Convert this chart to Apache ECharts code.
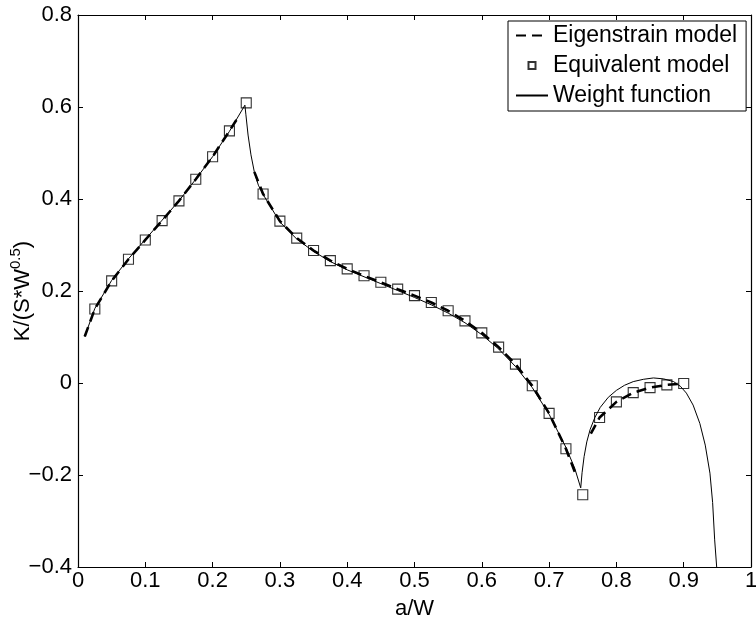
<!DOCTYPE html>
<html>
<head>
<meta charset="utf-8">
<script src="https://cdn.jsdelivr.net/npm/echarts@6/dist/echarts.min.js"></script>
<style>
  html, body { margin: 0; padding: 0; background: #fff; }
  #chart { width: 756px; height: 622px; }
</style>
</head>
<body>
<div id="chart"></div>
<script>
// Normalised crack length a/W
const xTicks = [0, 0.1, 0.2, 0.3, 0.4, 0.5, 0.6, 0.7, 0.8, 0.9, 1];
const yTicks = [-0.4, -0.2, 0, 0.2, 0.4, 0.6, 0.8];

// Equivalent model (square markers)
const equivX = [0.025, 0.05, 0.075, 0.1, 0.125, 0.15, 0.175, 0.2, 0.225, 0.25,
  0.275, 0.3, 0.325, 0.35, 0.375, 0.4, 0.425, 0.45, 0.475, 0.5,
  0.525, 0.55, 0.575, 0.6, 0.625, 0.65, 0.675, 0.7, 0.725, 0.75,
  0.775, 0.8, 0.825, 0.85, 0.875, 0.9];
const equivY = [0.161, 0.222, 0.269, 0.311, 0.353, 0.396, 0.443, 0.492, 0.548, 0.609,
  0.411, 0.352, 0.315, 0.288, 0.266, 0.248, 0.233, 0.219, 0.204, 0.190,
  0.175, 0.157, 0.135, 0.109, 0.078, 0.041, -0.006, -0.066, -0.143, -0.243,
  -0.075, -0.041, -0.021, -0.010, -0.004, -0.001];

// Eigenstrain model, three branches (dashed)
const eigenX1 = [0.010, 0.025, 0.05, 0.075, 0.1, 0.125, 0.15, 0.175, 0.2, 0.225, 0.238];
const eigenY1 = [0.101, 0.161, 0.222, 0.269, 0.311, 0.353, 0.396, 0.443, 0.492, 0.548, 0.578];
const eigenX2 = [0.262, 0.275, 0.3, 0.325, 0.35, 0.375, 0.4, 0.425, 0.45, 0.475, 0.5,
  0.525, 0.55, 0.575, 0.6, 0.625, 0.65, 0.675, 0.7, 0.725, 0.74];
const eigenY2 = [0.459, 0.411, 0.352, 0.315, 0.288, 0.266, 0.248, 0.233, 0.219, 0.204, 0.190,
  0.175, 0.157, 0.135, 0.109, 0.078, 0.041, -0.006, -0.066, -0.143, -0.200];
const eigenX3 = [0.762, 0.775, 0.8, 0.825, 0.85, 0.875, 0.9];
const eigenY3 = [-0.110, -0.075, -0.041, -0.021, -0.010, -0.004, -0.001];

// Weight function solution (thin solid)
const weightX = [0.010, 0.025, 0.05, 0.075, 0.1, 0.125, 0.15, 0.175, 0.2, 0.225, 0.248,
  0.2495, 0.2527, 0.257, 0.262, 0.268, 0.275, 0.3, 0.325, 0.35, 0.375, 0.4, 0.425,
  0.45, 0.475, 0.5, 0.525, 0.55, 0.575, 0.6, 0.625, 0.65, 0.675, 0.7, 0.725, 0.738,
  0.747, 0.749, 0.752, 0.756, 0.761, 0.768, 0.776, 0.788, 0.8, 0.812, 0.825, 0.84,
  0.855, 0.87, 0.885, 0.895, 0.904, 0.914, 0.924, 0.932, 0.939, 0.943, 0.946, 0.949];
const weightY = [0.101, 0.162, 0.223, 0.270, 0.312, 0.354, 0.396, 0.443, 0.492, 0.547, 0.604,
  0.583, 0.539, 0.496, 0.459, 0.430, 0.410, 0.350, 0.313, 0.286, 0.264, 0.246, 0.231,
  0.216, 0.201, 0.186, 0.170, 0.152, 0.131, 0.105, 0.074, 0.036, -0.010, -0.068, -0.140, -0.185,
  -0.228, -0.195, -0.160, -0.128, -0.101, -0.075, -0.053, -0.031, -0.016, -0.005, 0.003, 0.008,
  0.011, 0.009, 0.003, -0.007, -0.022, -0.048, -0.088, -0.135, -0.196, -0.260, -0.341, -0.400];

const zip = (xs, ys) => xs.map((x, i) => [x, ys[i]]);
const FONT = '"Liberation Sans", Arial, Helvetica, sans-serif';
const fmt = v => {
  const r = Math.round(v * 10) / 10;
  return String(r).replace('-', '\u2212');
};

const axisCommon = {
  axisLine: { show: true, onZero: false, lineStyle: { color: '#000', width: 1.2 } },
  axisTick: { show: true, inside: true, length: 5, lineStyle: { color: '#000', width: 1 } },
  splitLine: { show: false },
  axisLabel: { color: '#000', fontFamily: FONT, fontSize: 22 }
};

const chart = echarts.init(document.getElementById('chart'), null, { renderer: 'canvas' });

const eigenStyle = {
  type: 'line', name: 'Eigenstrain model', showSymbol: false, symbol: 'none',
  itemStyle: { color: '#000', opacity: 0 },
  lineStyle: { color: '#000', width: 2.6, type: [10, 6], opacity: 1 }, z: 3, silent: true
};

chart.setOption({
  animation: false,
  backgroundColor: '#fff',
  grid: { left: 78, right: 5, top: 15, bottom: 55, containLabel: false, outerBoundsMode: 'none' },
  xAxis: [
    Object.assign({}, axisCommon, {
      type: 'value', min: xTicks[0], max: xTicks[xTicks.length - 1], interval: 0.1,
      position: 'bottom',
      name: 'a/W', nameLocation: 'middle', nameGap: 31, nameMoveOverlap: false,
      nameTextStyle: { color: '#000', fontFamily: FONT, fontSize: 22 },
      axisLabel: Object.assign({}, axisCommon.axisLabel, { margin: 3, formatter: fmt })
    }),
    Object.assign({}, axisCommon, {
      type: 'value', min: 0, max: 1, interval: 0.1, position: 'top',
      axisLabel: { show: false }
    })
  ],
  yAxis: [
    Object.assign({}, axisCommon, {
      type: 'value', min: yTicks[0], max: yTicks[yTicks.length - 1], interval: 0.2,
      position: 'left',
      name: 'K/(S*W{sup|0.5})', nameLocation: 'middle', nameGap: 40, nameMoveOverlap: false,
      nameTextStyle: {
        color: '#000', fontFamily: FONT, fontSize: 22, lineHeight: 30,
        rich: { sup: { fontFamily: FONT, fontSize: 15, verticalAlign: 'top', lineHeight: 30, color: '#000' } }
      },
      axisLabel: Object.assign({}, axisCommon.axisLabel, { margin: 6, formatter: fmt })
    }),
    Object.assign({}, axisCommon, {
      type: 'value', min: -0.4, max: 0.8, interval: 0.2, position: 'right',
      axisLabel: { show: false }
    })
  ],
  legend: {
    orient: 'vertical', left: 508, top: 21,
    padding: [3, 9, 4, 7],
    itemGap: 7, itemWidth: 32, itemHeight: 14,
    backgroundColor: '#fff', borderColor: '#000', borderWidth: 1, borderRadius: 0,
    textStyle: { color: '#000', fontFamily: FONT, fontSize: 23, lineHeight: 22 },
    selectedMode: false,
    data: [
      { name: 'Eigenstrain model' },
      { name: 'Equivalent model', icon: 'path://M0,0M32,14M12.5,3.5H19.5V10.5H12.5Z' },
      { name: 'Weight function' }
    ]
  },
  series: [
    {
      type: 'line', name: 'Weight function', data: zip(weightX, weightY),
      showSymbol: false, symbol: 'none',
      itemStyle: { color: '#000', opacity: 0 },
      lineStyle: { color: '#000', width: 1, opacity: 1 }, z: 2, silent: true
    },
    Object.assign({}, eigenStyle, { data: zip(eigenX1, eigenY1) }),
    Object.assign({}, eigenStyle, { data: zip(eigenX2, eigenY2) }),
    Object.assign({}, eigenStyle, { data: zip(eigenX3, eigenY3) }),
    {
      type: 'scatter', name: 'Equivalent model', data: zip(equivX, equivY),
      symbol: 'rect', symbolSize: 10,
      itemStyle: { color: 'rgba(255,255,255,0)', borderColor: '#000', borderWidth: 1.1 },
      z: 4, silent: true
    }
  ]
});
</script>
</body>
</html>
